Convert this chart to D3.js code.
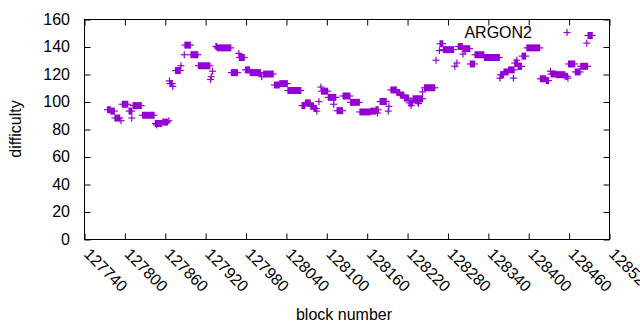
<!DOCTYPE html>
<html>
<head>
<meta charset="utf-8">
<script src="https://d3js.org/d3.v7.min.js"></script>
<style>
  body { margin: 0; background: #fff; }
  svg { font-family: "Liberation Sans", Arial, sans-serif; }
</style>
</head>
<body>
<div id="chart"></div>
<script>
// runs of consecutive blocks that share one difficulty value (a single block when start == end)
var runStart = [127775,127780,127786,127795,127797,127807,127811,127813,127827,127846,127848,127857,127866,127867,127868,127872,127876,127884,127889,127890,127899,127910,127928,127929,127931,127936,127938,127959,127970,127971,127980,127987,128004,128007,128023,128031,128043,128064,128069,128077,128082,128086,128089,128092,128093,128103,128111,128116,128125,128136,128150,128166,128174,128176,128180,128192,128193,128196,128205,128210,128216,128223,128226,128229,128236,128237,128243,128246,128263,128268,128269,128274,128291,128294,128296,128303,128304,128306,128314,128321,128335,128358,128359,128364,128371,128378,128380,128383,128385,128391,128398,128418,128427,128433,128434,128442,128455,128459,128460,128470,128478,128487,128489];
var runEnd   = [127779,127785,127793,127795,127805,127811,127811,127825,127844,127855,127848,127864,127866,127867,127871,127872,127883,127884,127889,127898,127909,127927,127928,127929,127931,127937,127958,127968,127970,127978,127986,128002,128004,128021,128030,128042,128062,128068,128076,128081,128085,128086,128089,128092,128102,128114,128111,128124,128135,128149,128165,128173,128177,128176,128189,128192,128193,128204,128209,128215,128222,128228,128226,128243,128236,128237,128243,128261,128263,128268,128273,128289,128291,128294,128302,128303,128313,128306,128320,128334,128357,128358,128363,128370,128379,128378,128384,128383,128390,128396,128417,128426,128430,128433,128441,128454,128458,128459,128469,128477,128488,128487,128495];
var runDiff  = [94,93,88,86,98,93,88,97,90,84,83,85,86,115,113,111,122.5,126,134,141,134,126,116,118,122,140,139,121,135,132,123,121,118,120,112,113,108,97,99,96.5,95,93,100,110.5,107.5,103,98,93.3,104,99.4,92.4,93,94,91.6,100,93,96.5,108.4,106.5,104.7,102.5,99,97,102,99.6,98.5,107,110,130,137,142,137.7,125.6,128,140,134.5,138.4,136.5,127.3,134,132,117,119.5,121.5,123,117,128,130,125.5,133,139,116.5,115.2,122,120,119.5,118.3,117,127.3,121.5,125.6,142.5,148];

var xTicks = [127740,127800,127860,127920,127980,128040,128100,128160,128220,128280,128340,128400,128460,128520];
var yTicks = [0,20,40,60,80,100,120,140,160];
var seriesName = "ARGON2";

var w = 640, h = 330;
var plotL = 84, plotR = 609, plotT = 19, plotB = 239;
var color = "#9400d3";
var arm = 3.5, tick = 6, fs = 16;

var svg = d3.select("#chart").append("svg")
  .attr("width", w).attr("height", h);

var x = d3.scaleLinear().domain([127740, 128520]).range([plotL, plotR]);
var y = d3.scaleLinear().domain([0, 160]).range([plotB, plotT]);

// frame
svg.append("rect")
  .attr("x", plotL + 0.5).attr("y", plotT + 0.5)
  .attr("width", plotR - plotL).attr("height", plotB - plotT)
  .attr("fill", "none").attr("stroke", "#000").attr("stroke-width", 1);

// mirrored inward ticks
var xAxisB = d3.axisBottom(x).tickValues(xTicks).tickSize(-tick).tickFormat("");
var xAxisT = d3.axisTop(x).tickValues(xTicks).tickSize(-tick).tickFormat("");
var yAxisL = d3.axisLeft(y).tickValues(yTicks).tickSize(-tick).tickFormat("");
var yAxisR = d3.axisRight(y).tickValues(yTicks).tickSize(-tick).tickFormat("");

function plain(g) { g.select(".domain").remove(); g.selectAll("line").attr("stroke", "#000"); }

svg.append("g").attr("transform", "translate(0.5," + (plotB + 0.5) + ")").call(xAxisB).call(plain);
svg.append("g").attr("transform", "translate(0.5," + (plotT + 0.5) + ")").call(xAxisT).call(plain);
svg.append("g").attr("transform", "translate(" + (plotL + 0.5) + ",0.5)").call(yAxisL).call(plain);
svg.append("g").attr("transform", "translate(" + (plotR + 0.5) + ",0.5)").call(yAxisR).call(plain);

// tick labels
svg.selectAll("text.ylab").data(yTicks).enter().append("text")
  .attr("class", "ylab")
  .attr("x", 70).attr("y", function(d) { return y(d); })
  .attr("dy", "0.36em")
  .attr("text-anchor", "end")
  .attr("font-size", fs)
  .text(function(d) { return d; });

svg.selectAll("text.xlab").data(xTicks).enter().append("text")
  .attr("class", "xlab")
  .attr("transform", function(d) { return "translate(" + (x(d) - 1) + ",255) rotate(45)"; })
  .attr("text-anchor", "start")
  .attr("font-size", fs)
  .text(function(d) { return d; });

// axis titles
svg.append("text")
  .attr("transform", "translate(21," + ((plotT + plotB) / 2) + ") rotate(-90)")
  .attr("text-anchor", "middle")
  .attr("font-size", fs)
  .text("difficulty");

svg.append("text")
  .attr("x", 344).attr("y", 320)
  .attr("text-anchor", "middle")
  .attr("font-size", fs)
  .text("block number");

// points: overlapping '+' markers, a run of blocks fills into a bar
var runs = runStart.map(function(s, i) { return { start: s, end: runEnd[i], diff: runDiff[i] }; });

var marks = svg.append("g").selectAll("g.run").data(runs).enter().append("g")
  .attr("class", "run");

marks.append("rect")
  .attr("x", function(d) { return x(d.start) - 0.6; })
  .attr("y", function(d) { return y(d.diff) - arm; })
  .attr("width", function(d) { return x(d.end) - x(d.start) + 1.2; })
  .attr("height", arm * 2)
  .attr("fill", color);

marks.append("line")
  .attr("x1", function(d) { return x(d.start) - arm; })
  .attr("x2", function(d) { return x(d.end) + arm; })
  .attr("y1", function(d) { return y(d.diff); })
  .attr("y2", function(d) { return y(d.diff); })
  .attr("stroke", color).attr("stroke-width", 1.2);

// key
svg.append("text")
  .attr("x", 532).attr("y", 37.5)
  .attr("text-anchor", "end")
  .attr("font-size", fs)
  .text(seriesName);

var key = svg.append("g").attr("transform", "translate(567,32.5)");
key.append("line").attr("x1", -arm).attr("x2", arm).attr("y1", 0).attr("y2", 0)
  .attr("stroke", color).attr("stroke-width", 1.2);
key.append("line").attr("x1", 0).attr("x2", 0).attr("y1", -arm).attr("y2", arm)
  .attr("stroke", color).attr("stroke-width", 1.2);
</script>
</body>
</html>
